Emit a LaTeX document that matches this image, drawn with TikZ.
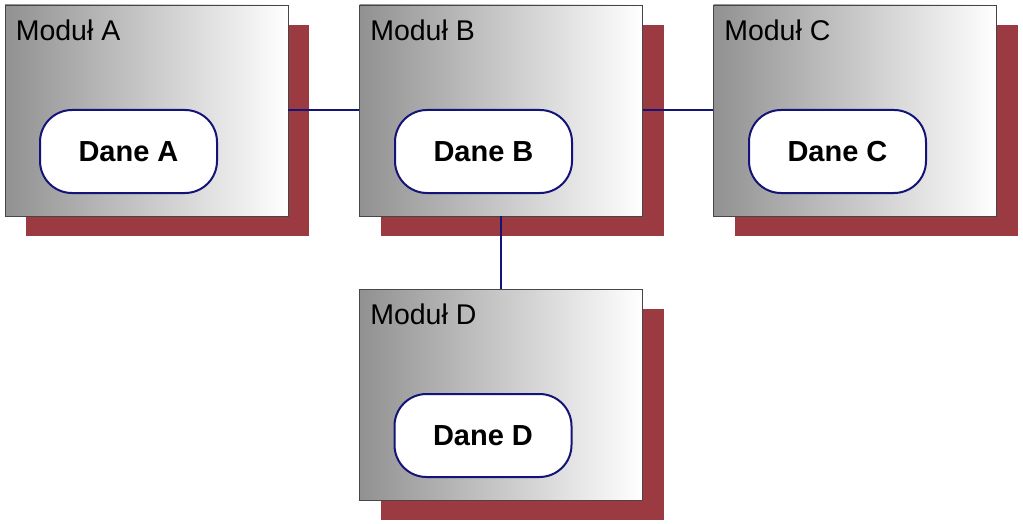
\documentclass[tikz,border=0pt]{standalone}
\usepackage{fontspec}
\setmainfont{Liberation Sans}
\usetikzlibrary{shadows}
\definecolor{cienczer}{RGB}{155,58,64}
\definecolor{granat}{RGB}{20,20,120}
\definecolor{szary}{RGB}{145,145,145}
\begin{document}
\begin{tikzpicture}[
                x=1pt, y=-1pt,
                modul/.style={rectangle, draw={rgb,255:red,70;green,70;blue,70}, line width=0.8pt,
                        minimum width=283pt, minimum height=211pt, inner sep=0pt,
                        left color=szary, right color=white,
                        drop shadow={shadow xshift=21pt, shadow yshift=-20pt, fill=cienczer, opacity=1}},
                tytul/.style={anchor=north west, inner sep=0pt, xshift=11pt, yshift=-15pt,
                        font=\fontsize{28.5}{32}\selectfont},
                dane/.style={rectangle, rounded corners=32pt, draw=granat, line width=2pt, fill=white,
                        minimum width=177pt, minimum height=83pt, inner sep=0pt,
                        font=\bfseries\fontsize{29}{34}\selectfont},
                polacz/.style={draw=granat, line width=2pt}
            ]
            \useasboundingbox (0,0) rectangle (1023,524);

            % moduly
            \node[modul, label={[tytul]north west:Moduł A}] (modA) at (146.5,110.5) {};
            \node[modul, label={[tytul]north west:Moduł B}] (modB) at (501,110.5) {};
            \node[modul, label={[tytul]north west:Moduł C}] (modC) at (855,110.5) {};
            \node[modul, label={[tytul]north west:Moduł D}] (modD) at (501,394.5) {};

            % dane
            \node[dane] (daneA) at (128.5,151.5) {Dane A};
            \node[dane] (daneB) at (483.5,151.5) {Dane B};
            \node[dane] (daneC) at (837.5,151.5) {Dane C};
            \node[dane] (daneD) at (483,435.5) {Dane D};

            % polaczenia
            \draw[polacz] (modA.east) -- (modB.west);
            \draw[polacz] (modB.east) -- (modC.west);
            \draw[polacz] (modB.south) -- (modD.north);

        \end{tikzpicture}
\end{document}
